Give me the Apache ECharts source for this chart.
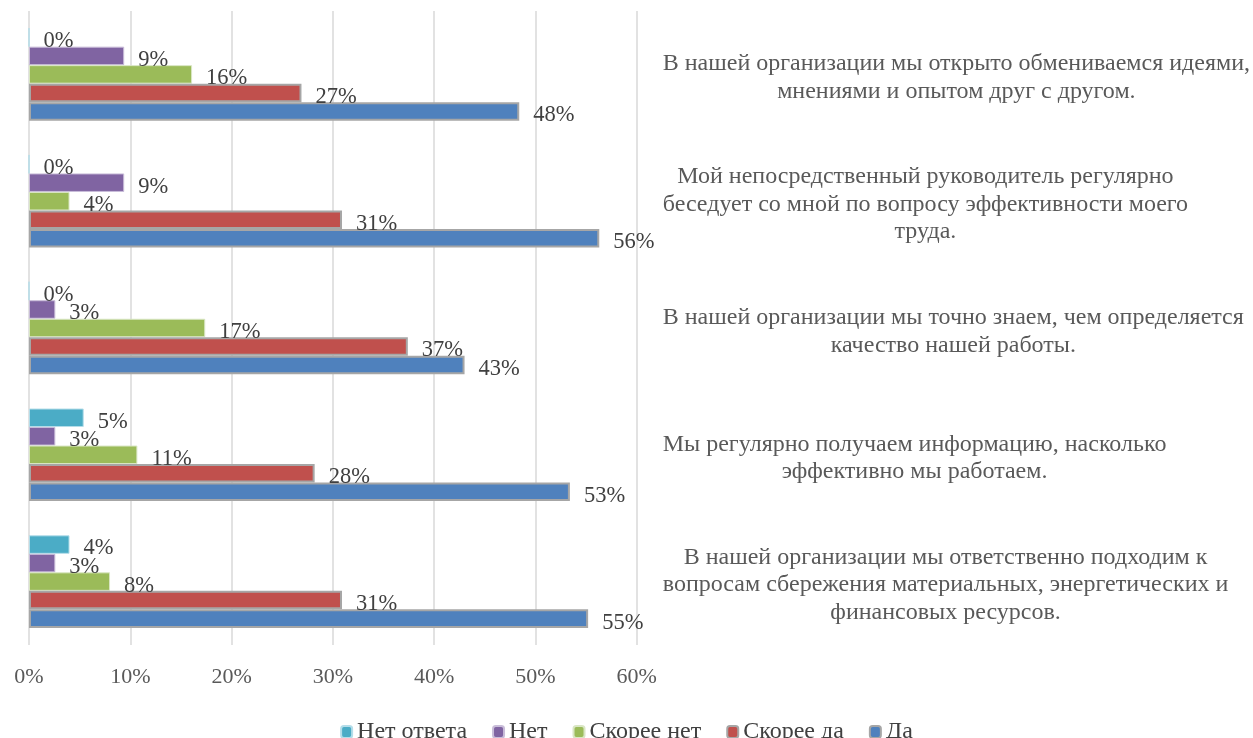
<!DOCTYPE html>
<html>
<head>
<meta charset="utf-8">
<script src="https://cdn.jsdelivr.net/npm/echarts@6/dist/echarts.min.js"></script>
<style>html,body{margin:0;padding:0;background:#fff}#c{width:1253px;height:738px}</style>
</head>
<body>
<div id="c"></div>
<script>
// categories listed top to bottom
const categories = [
  'В нашей организации мы открыто обмениваемся идеями,\nмнениями и опытом друг с другом.',
  'Мой непосредственный руководитель регулярно\nбеседует со мной по вопросу эффективности моего\nтруда.',
  'В нашей организации мы точно знаем, чем определяется\nкачество нашей работы.',
  'Мы регулярно получаем информацию, насколько\nэффективно мы работаем.',
  'В нашей организации мы ответственно подходим к\nвопросам сбережения материальных, энергетических и\nфинансовых ресурсов.'
];
// series in legend order (top bar of each group first)
const seriesNames = ['Нет ответа', 'Нет', 'Скорее нет', 'Скорее да', 'Да'];
const netOtveta = [0, 0, 0, 5.4, 4.0];
const net       = [9.4, 9.4, 2.6, 2.6, 2.6];
const skoreeNet = [16.1, 4.0, 17.4, 10.7, 8.0];
const skoreeDa  = [26.9, 30.9, 37.4, 28.2, 30.9];
const da        = [48.4, 56.3, 43.0, 53.4, 55.2];
const xTicks = [0, 10, 20, 30, 40, 50, 60];

const values = [netOtveta, net, skoreeNet, skoreeDa, da];
const colors = ['#4BACC6', '#8064A2', '#9BBB59', '#C0504D', '#4F81BD'];
const borders = ['#B4DDE9', '#C9BDD9', '#D9E6C4', '#A6A6A6', '#A6A6A6'];
const borderW = [1, 1, 1, 2, 2];
const FONT = 'Liberation Serif';

const chart = echarts.init(document.getElementById('c'));
chart.setOption({
  animation: false,
  backgroundColor: '#ffffff',
  grid: { left: 29, right: 616, top: 11, bottom: 93, containLabel: false },
  legend: {
    data: seriesNames,
    top: 715,
    left: 'center',
    itemWidth: 11,
    itemHeight: 12,
    itemGap: 25,
    textStyle: { fontFamily: FONT, fontSize: 24, color: '#404040' }
  },
  xAxis: {
    type: 'value',
    min: xTicks[0],
    max: xTicks[xTicks.length - 1],
    interval: 10,
    axisLine: { show: false },
    axisTick: { show: false },
    splitLine: { show: true, lineStyle: { color: '#D9D9D9', width: 1.5 } },
    axisLabel: { formatter: '{value}%', fontFamily: FONT, fontSize: 22, color: '#595959', margin: 21 }
  },
  yAxis: {
    type: 'category',
    data: categories,
    inverse: true,
    position: 'right',
    axisLine: { show: false },
    axisTick: { show: false },
    axisLabel: {
      align: 'left',
      margin: 26,
      padding: [7, 0, 0, 0],
      formatter: v => v.split('\n').map(l => '{c|' + l + '}').join('\n'),
      rich: { c: { align: 'center', fontFamily: FONT, fontSize: 24, lineHeight: 27.5, color: '#595959' } }
    }
  },
  series: seriesNames.map((name, i) => ({
    name: name,
    type: 'bar',
    data: values[i],
    barGap: '0%',
    barCategoryGap: '27%',
    itemStyle: { color: colors[i], borderColor: borders[i], borderWidth: borderW[i] },
    label: {
      show: true,
      position: 'right',
      distance: 14,
      offset: [0, 4],
      formatter: p => Math.round(p.value) + '%',
      fontFamily: FONT,
      fontSize: 22.5,
      color: '#404040'
    }
  }))
});
</script>
</body>
</html>
